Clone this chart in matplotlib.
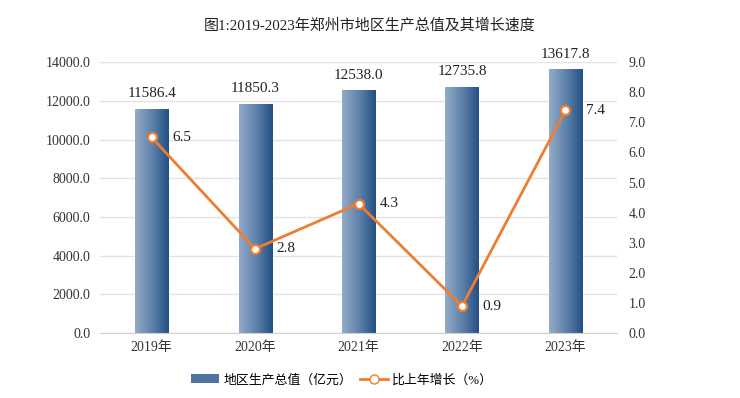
import matplotlib.pyplot as plt
import numpy as np
from matplotlib.colors import LinearSegmentedColormap
from matplotlib.patches import Patch
from matplotlib.lines import Line2D

plt.rcParams['font.family'] = ['Liberation Serif', 'Noto Sans CJK SC', 'DejaVu Sans']

years = ["2019年", "2020年", "2021年", "2022年", "2023年"]
gdp = [11586.4, 11850.3, 12538.0, 12735.8, 13617.8]
growth = [6.5, 2.8, 4.3, 0.9, 7.4]


def main():
    fig = plt.figure(figsize=(7.4, 3.98), dpi=100)
    ax = fig.add_axes([0.135, 0.163, 0.699, 0.681])
    ax2 = ax.twinx()

    x = np.arange(len(years))
    width = 0.32
    cmap = LinearSegmentedColormap.from_list("bar", ["#93acc8", "#5f82aa", "#244f84"])
    grad = np.linspace(0, 1, 256).reshape(1, -1)

    bars = ax.bar(x, gdp, width=width, color="none", edgecolor="none", zorder=2)
    for b in bars:
        x0, y0 = b.get_x(), b.get_y()
        im = ax.imshow(grad, cmap=cmap, aspect="auto", zorder=2,
                       extent=[x0, x0 + b.get_width(), y0, y0 + b.get_height()])
        im.set_clip_path(b)
    for xi, v in zip(x, gdp):
        ax.annotate(f"{v:.1f}", (xi, v), xytext=(0, 6), textcoords="offset points",
                    ha="center", va="bottom", fontsize=11, color="#222222")

    ax.set_xlim(-0.5, 4.5)
    ax.set_ylim(0, 14000)
    ax.set_yticks(np.arange(0, 14001, 2000))
    ax.set_yticklabels([f"{t:.1f}" for t in np.arange(0, 14001, 2000)])
    ax.set_xticks(x)
    ax.set_xticklabels(years)
    ax.grid(axis="y", color="#e3e3e3", linewidth=1, zorder=0)
    ax.set_axisbelow(True)

    ax2.plot(x, growth, color="#ed7d31", linewidth=2.0, marker="o", markersize=6.5,
             markerfacecolor="white", markeredgecolor="#ed7d31", markeredgewidth=1.6,
             zorder=5)
    for xi, v in zip(x, growth):
        ax2.annotate(f"{v:.1f}", (xi, v), xytext=(15, 0), textcoords="offset points",
                     ha="left", va="center", fontsize=11, color="#222222")
    ax2.set_ylim(0, 9)
    ax2.set_yticks(np.arange(0, 9.1, 1))
    ax2.set_yticklabels([f"{t:.1f}" for t in np.arange(0, 9.1, 1)])

    for a in (ax, ax2):
        for s in a.spines.values():
            s.set_visible(False)
        a.tick_params(length=0, labelsize=10, colors="#333333")
    ax.spines["bottom"].set_visible(True)
    ax.spines["bottom"].set_color("#d0d0d0")
    ax.tick_params(axis="y", pad=7)
    ax.tick_params(axis="x", pad=6)
    ax2.tick_params(axis="y", pad=8)

    handles = [Patch(facecolor="#4f74a0", edgecolor="none"),
               Line2D([], [], color="#ed7d31", linewidth=2.0, marker="o", markersize=6.5,
                      markerfacecolor="white", markeredgecolor="#ed7d31")]
    fig.legend(handles, ["地区生产总值（亿元）", "比上年增长（%）"], loc="center",
               bbox_to_anchor=(0.462, 0.045), ncol=2, frameon=False, fontsize=9.3,
               handlelength=2.2, columnspacing=0.6, handletextpad=0.3)

    fig.suptitle("图1:2019-2023年郑州市地区生产总值及其增长速度", y=0.955, fontsize=10.8,
                 color="#222222")
    fig.savefig("out.png", dpi=100)


if __name__ == '__main__':
    main()
